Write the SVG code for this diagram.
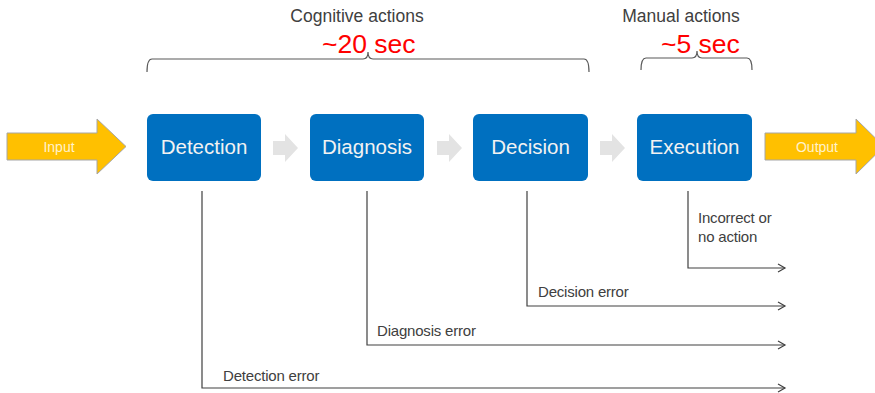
<svg xmlns="http://www.w3.org/2000/svg" width="875" height="393" viewBox="0 0 875 393">
<defs>
<style>
.box{fill:#0070C0;}
.blabel{font-family:"Liberation Sans",Arial,sans-serif;font-size:20.5px;fill:#F2F2F2;text-anchor:middle;}
.io{fill:#FFC000;stroke:#A6A6A6;stroke-width:1;}
.iolabel{font-family:"Liberation Sans",Arial,sans-serif;font-size:14px;fill:#FFF2CC;text-anchor:middle;}
.gray{fill:#E3E3E3;}
.hdr{font-family:"Liberation Sans",Arial,sans-serif;font-size:17.5px;fill:#404040;text-anchor:middle;}
.sec{font-family:"Liberation Sans",Arial,sans-serif;font-size:26.5px;fill:#FF0000;}
.brace{fill:none;stroke:#595959;stroke-width:1.2;}
.line{fill:none;stroke:#404040;stroke-width:1.2;marker-end:url(#arr);}
.elabel{font-family:"Liberation Sans",Arial,sans-serif;font-size:15px;fill:#404040;letter-spacing:-0.2px;}
</style>
<marker id="arr" markerWidth="10" markerHeight="10" refX="8" refY="5" orient="auto" markerUnits="userSpaceOnUse">
<polyline points="1,1 8,5 1,9" fill="none" stroke="#404040" stroke-width="1.2"/>
</marker>
</defs>

<g id="headers">
<text class="hdr" x="357" y="22">Cognitive actions</text>
<text class="sec" x="322" y="53">~20 sec</text>
<path class="brace" d="M147,72 Q147,59 152,59 L363,59 Q368,59 368,52 Q368,59 373,59 L584,59 Q589,59 589,72"/>
<text class="hdr" x="681" y="22">Manual actions</text>
<text class="sec" x="661" y="53">~5 sec</text>
<path class="brace" d="M641,70 Q641,58 646,58 L692,58 Q697,58 697,51 Q697,58 702,58 L747,58 Q752,58 752,70"/>
</g>

<g id="input">
<polygon class="io" points="7,133 97,133 97,119 126,146.5 97,174 97,160 7,160"/>
<text class="iolabel" x="59" y="152">Input</text>
</g>

<g id="detection">
<rect class="box" x="147" y="114" width="114" height="67" rx="6"/>
<text class="blabel" x="204" y="154">Detection</text>
</g>
<g id="diagnosis">
<rect class="box" x="310" y="114" width="114" height="67" rx="6"/>
<text class="blabel" x="367" y="154">Diagnosis</text>
</g>
<g id="decision">
<rect class="box" x="473" y="114" width="115" height="67" rx="6"/>
<text class="blabel" x="530.5" y="154">Decision</text>
</g>
<g id="execution">
<rect class="box" x="637" y="114" width="115" height="67" rx="6"/>
<text class="blabel" x="694.5" y="154">Execution</text>
</g>

<g id="output">
<polygon class="io" points="765,133 856,133 856,119 884,146.5 856,174 856,160 765,160"/>
<text class="iolabel" x="817" y="152">Output</text>
</g>

<g id="connectors">
<polygon class="gray" points="273,141 285,141 285,134 298,148 285,162 285,155 273,155"/>
<polygon class="gray" points="437,141 449,141 449,134 462,148 449,162 449,155 437,155"/>
<polygon class="gray" points="600,141 612,141 612,134 625,148 612,162 612,155 600,155"/>
<path class="line" d="M688,191 L688,268 L785,268"/>
<path class="line" d="M527,191 L527,306 L785,306"/>
<path class="line" d="M367,191 L367,345 L785,345"/>
<path class="line" d="M202,191 L202,388 L785,388"/>
</g>

<g id="error-labels">
<text class="elabel" x="698" y="223">Incorrect or</text>
<text class="elabel" x="698" y="242">no action</text>
<text class="elabel" x="538" y="297">Decision error</text>
<text class="elabel" x="377" y="336">Diagnosis error</text>
<text class="elabel" x="223" y="381">Detection error</text>
</g>
</svg>
